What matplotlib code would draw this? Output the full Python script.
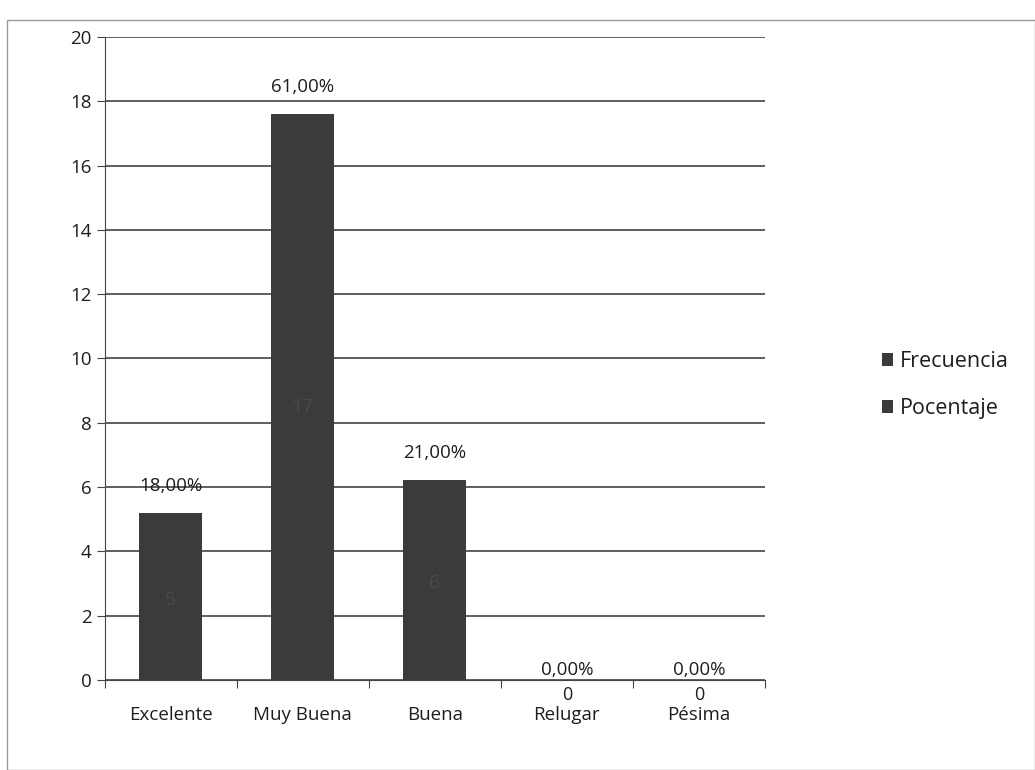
import matplotlib
matplotlib.use("Agg")
import matplotlib.pyplot as plt
from matplotlib.patches import Rectangle

categorias = ["Excelente", "Muy Buena", "Buena", "Relugar", "Pésima"]
frecuencia = [5, 17, 6, 0, 0]
porcentaje = [0.18, 0.61, 0.21, 0.0, 0.0]
etiquetas_pct = ["18,00%", "61,00%", "21,00%", "0,00%", "0,00%"]
yticks = [0, 2, 4, 6, 8, 10, 12, 14, 16, 18, 20]

plt.rcParams["font.family"] = ["Open Sans", "DejaVu Sans"]
BAR = "#3b3b3b"
TXT = "#1e1e1e"

fig = plt.figure(figsize=(10.35, 7.7), dpi=100)
fig.patches.append(Rectangle((0.007, 0.0), 0.993, 0.974, transform=fig.transFigure,
                             fill=False, ec="#9a9a9a", lw=1.0))
ax = fig.add_axes([0.101, 0.117, 0.638, 0.835])

x = range(len(categorias))
b1 = ax.bar(x, frecuencia, width=0.48, color=BAR, label="Frecuencia", zorder=3)
b2 = ax.bar(x, porcentaje, width=0.48, bottom=frecuencia, color=BAR,
            label="Pocentaje", zorder=3)

# etiquetas de frecuencia (dentro de la barra, casi invisibles)
for i, f in enumerate(frecuencia):
    if f > 0:
        ax.text(i, f / 2, str(f), ha="center", va="center", fontsize=14,
                color="#4a4a4a", zorder=4)
    else:
        ax.annotate(str(f), (i, 0), xytext=(0, -11), textcoords="offset points",
                    ha="center", va="center", fontsize=13, color=TXT)

# porcentajes: las barras vacías llevan la etiqueta pegada al eje
con_valor = [e if f > 0 else "" for e, f in zip(etiquetas_pct, frecuencia)]
sin_valor = [e if f == 0 else "" for e, f in zip(etiquetas_pct, frecuencia)]
ax.bar_label(b2, labels=con_valor, padding=13, fontsize=13.5, color=TXT)
ax.bar_label(b2, labels=sin_valor, padding=1, fontsize=13.5, color=TXT)

ax.set_xlim(-0.5, len(categorias) - 0.5)
ax.set_ylim(0, 20)
ax.set_yticks(yticks)
ax.yaxis.grid(True, color="#333333", lw=1.1, zorder=0)
ax.set_axisbelow(True)
for s in ("top", "right"):
    ax.spines[s].set_visible(False)
ax.spines["left"].set_color("#444444")
ax.spines["bottom"].set_color("#444444")
ax.tick_params(axis="y", length=6, color="#444444", labelsize=13.5, labelcolor=TXT)

ax.set_xticks([i - 0.5 for i in range(len(categorias) + 1)], minor=False)
ax.set_xticklabels([])
ax.tick_params(axis="x", length=6, color="#444444")
ax.set_xticks(list(x), minor=True)
ax.set_xticklabels(categorias, minor=True)
ax.tick_params(axis="x", which="minor", length=0, pad=19, labelsize=13.5, labelcolor=TXT)

fig.legend(handles=[b1, b2], loc="center left", bbox_to_anchor=(0.833, 0.5),
           frameon=False, fontsize=15.5, handlelength=0.55, handleheight=0.55,
           handletextpad=0.3, labelspacing=1.2, labelcolor=TXT)

fig.savefig("out.png")
